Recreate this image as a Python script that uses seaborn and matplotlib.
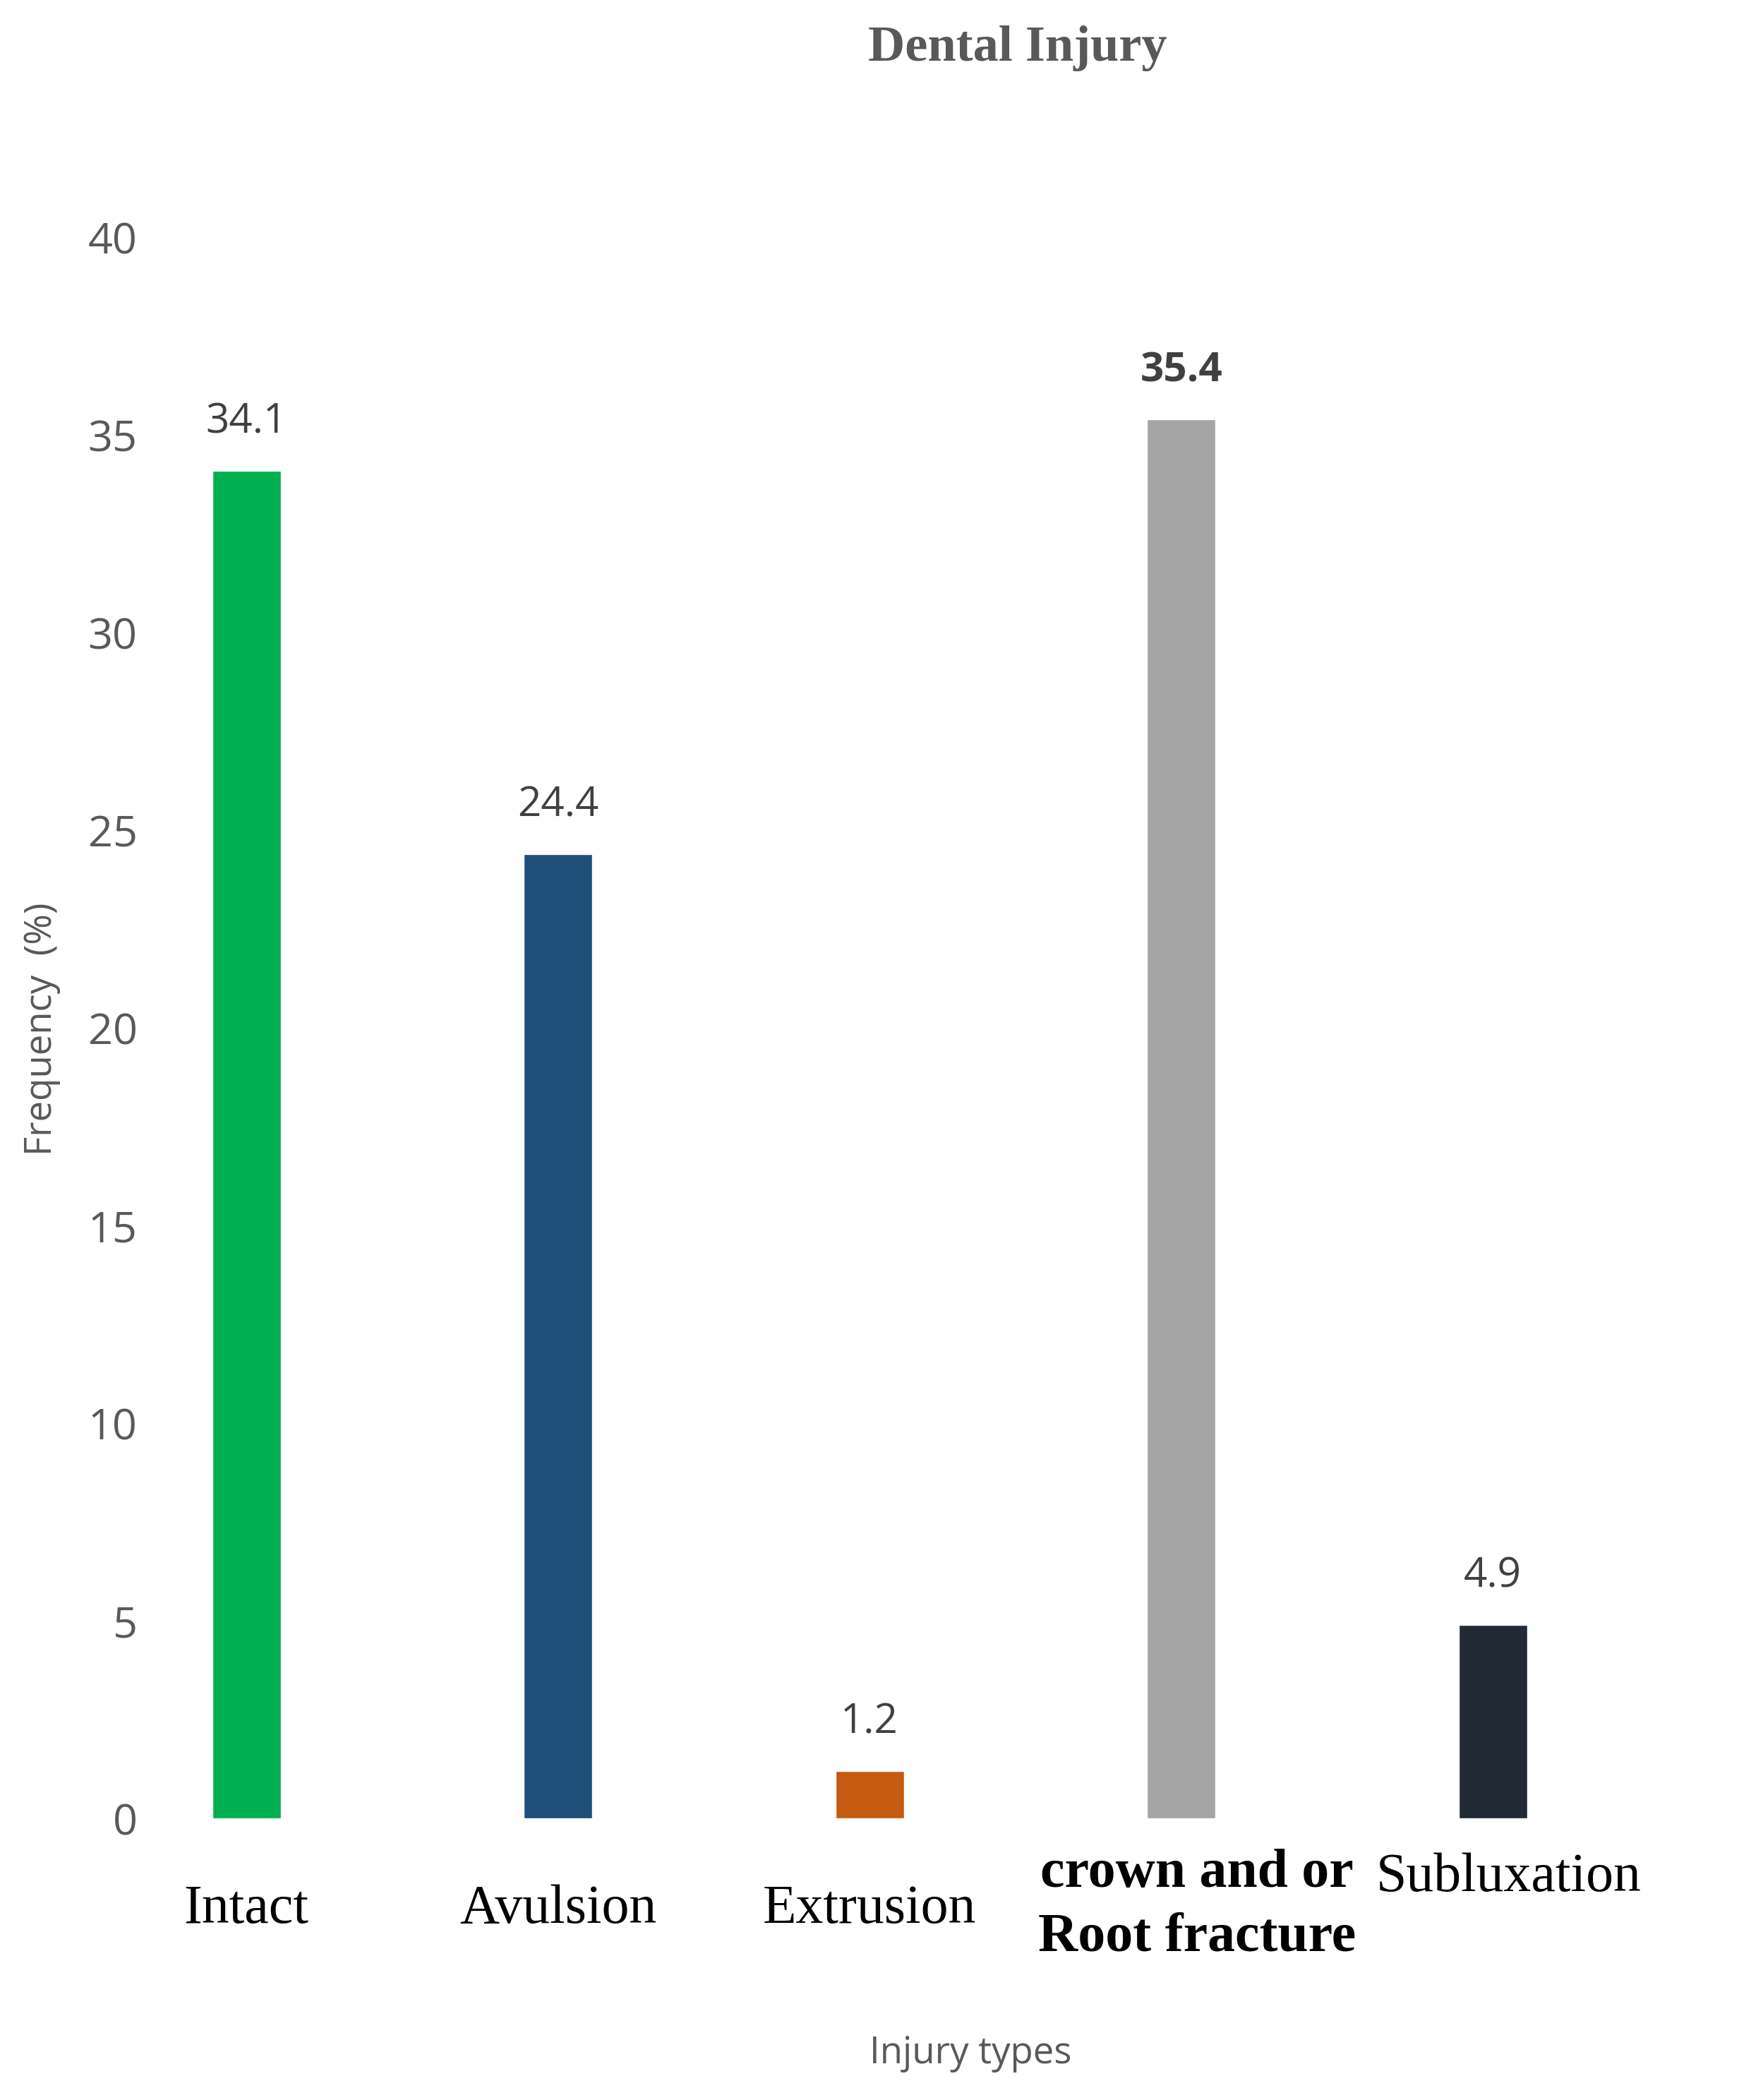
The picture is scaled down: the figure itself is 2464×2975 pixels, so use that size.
import pandas as pd
import seaborn as sns
import matplotlib.pyplot as plt

categories = ['Intact', 'Avulsion', 'Extrusion', 'crown and or\nRoot fracture', 'Subluxation']
values = [34.1, 24.4, 1.2, 35.4, 4.9]
colors = ['#00B050', '#1F4E79', '#C55A11', '#A5A5A5', '#222A35']
yticks = [0, 5, 10, 15, 20, 25, 30, 35, 40]

sns.set_theme(style='white')
plt.rcParams['font.family'] = ['Open Sans', 'DejaVu Sans']

df = pd.DataFrame({'Injury': categories, 'Value': values})
fig = plt.figure(figsize=(24.64, 29.75), dpi=100)
ax = fig.add_axes([0.079, 0.134, 0.869, 0.753])
sns.barplot(data=df, x='Injury', y='Value', hue='Injury', palette=colors,
            width=0.22, saturation=1, legend=False, ax=ax)

gray = '#595959'
for i, v in enumerate(values):
    ax.text(i, v + 0.7, f'{v}', ha='center', va='bottom', fontsize=42, color='#404040',
            fontweight='bold' if i == 3 else 'normal')

ax.set_ylim(0, 40)
ax.set_xlim(-0.35, 4.5)
ax.set_yticks(yticks)
ax.set_yticklabels([str(t) for t in yticks], fontsize=44, color=gray)
ax.tick_params(axis='y', pad=0, length=0)
ax.set_xticks(range(len(categories)))
ax.set_xticklabels([])
ax.tick_params(axis='x', length=0)

# category labels placed below the axis with varying offsets as in the source
label_y = [-2.3, -2.3, -2.3, -2.2, -1.5]
for i, (lab, yy) in enumerate(zip(categories, label_y)):
    ax.text(i + (0.05 if i >= 3 else 0), yy, lab, ha='center', va='center', fontsize=56,
            color='black', family='Liberation Serif', linespacing=1.35,
            fontweight='bold' if i == 3 else 'normal', clip_on=False)
for s in ax.spines.values():
    s.set_visible(False)

ax.set_xlabel('')
ax.set_ylabel('')
fig.text(0.024, 0.51, 'Frequency  (%)', rotation=90, ha='center', va='center', fontsize=38, color=gray)
fig.text(0.558, 0.022, 'Injury types', ha='center', va='center', fontsize=38, color=gray)
fig.text(0.585, 0.977, 'Dental Injury', ha='center', va='center', fontsize=52, color=gray,
         family='Liberation Serif', fontweight='bold')

fig.savefig('out.png', dpi=100)
